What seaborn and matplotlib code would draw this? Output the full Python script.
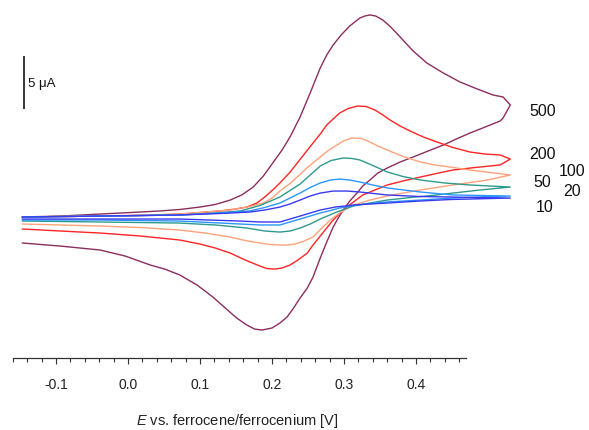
import matplotlib
matplotlib.use("Agg")
import matplotlib.pyplot as plt
import seaborn as sns
import pandas as pd
import numpy as np

# ---------------- data (E in V vs Fc/Fc+, I in uA) ----------------
rates = ["500", "200", "100", "50", "20", "10"]
colors = ["#8C2D5E", "#FF2424", "#FFA27A", "#2E9A8E", "#2A96FF", "#3A3AF0"]

E_500 = [-0.147, -0.094, -0.039, 0.017, 0.044, 0.072, 0.100, 0.121, 0.142, 0.158, 0.174, 0.188,
         0.201, 0.214, 0.225, 0.239, 0.253, 0.267, 0.276, 0.285, 0.296, 0.308, 0.322, 0.329,
         0.336, 0.344, 0.354, 0.365, 0.378, 0.396, 0.415, 0.438, 0.461, 0.485, 0.507, 0.521, 0.531,
         0.521, 0.517, 0.496, 0.475, 0.456, 0.438, 0.417, 0.396, 0.378, 0.360, 0.347, 0.336,
         0.326, 0.318, 0.308, 0.299, 0.292, 0.285, 0.276, 0.267, 0.257, 0.249, 0.239, 0.229,
         0.221, 0.211, 0.200, 0.186, 0.176, 0.165, 0.151, 0.135, 0.118, 0.096, 0.072, 0.051,
         0.031, -0.004, -0.039, -0.094, -0.147]
I_500 = [0.00, 0.09, 0.28, 0.47, 0.57, 0.71, 0.94, 1.18, 1.60, 2.08, 2.83, 3.87,
         5.09, 6.32, 7.55, 9.43, 11.70, 14.06, 15.28, 16.23, 17.17, 18.02, 18.77, 18.96,
         19.06, 18.96, 18.58, 17.92, 16.98, 15.66, 14.53, 13.58, 12.74, 12.08, 11.51, 11.32, 10.57,
         9.34, 9.06, 8.49, 7.92, 7.36, 6.79, 6.23, 5.66, 5.19, 4.62, 4.15, 3.49,
         2.92, 2.26, 1.51, 0.66, -0.09, -0.94, -2.36, -3.87, -5.66, -6.70, -7.64, -8.68,
         -9.43, -10.00, -10.47, -10.66, -10.57, -10.19, -9.53, -8.58, -7.55, -6.42, -5.47, -4.91,
         -4.53, -3.68, -3.11, -2.74, -2.45]

E_200 = [-0.147, -0.039, 0.017, 0.072, 0.100, 0.128, 0.149, 0.165, 0.179, 0.190, 0.201, 0.211,
         0.224, 0.235, 0.246, 0.257, 0.267, 0.276, 0.285, 0.294, 0.306, 0.319, 0.331, 0.343,
         0.353, 0.364, 0.378, 0.392, 0.410, 0.429, 0.451, 0.475, 0.496, 0.517, 0.531,
         0.517, 0.482, 0.451, 0.428, 0.406, 0.382, 0.360, 0.343, 0.326, 0.315, 0.304, 0.294,
         0.285, 0.276, 0.267, 0.257, 0.249, 0.236, 0.225, 0.214, 0.204, 0.193, 0.183, 0.163,
         0.142, 0.121, 0.100, 0.072, 0.017, -0.039, -0.094, -0.147]
I_200 = [0.00, 0.09, 0.14, 0.28, 0.42, 0.57, 0.75, 0.94, 1.32, 1.89, 2.55, 3.21,
         4.15, 5.09, 6.04, 6.98, 7.83, 8.68, 9.25, 9.81, 10.24, 10.47, 10.42, 10.09,
         9.67, 9.15, 8.58, 8.11, 7.55, 7.08, 6.56, 6.13, 5.94, 5.85, 5.47,
         4.91, 4.67, 4.43, 4.10, 3.77, 3.40, 3.02, 2.55, 2.08, 1.51, 0.94, 0.33,
         -0.28, -1.04, -1.79, -2.64, -3.40, -4.06, -4.53, -4.81, -4.91, -4.86, -4.62, -4.06,
         -3.40, -2.92, -2.55, -2.17, -1.79, -1.51, -1.32, -1.13]

E_100 = [-0.147, -0.039, 0.072, 0.142, 0.169, 0.188, 0.200, 0.211, 0.224, 0.235, 0.250, 0.267,
         0.278, 0.288, 0.299, 0.311, 0.324, 0.336, 0.347, 0.360, 0.382, 0.406, 0.426, 0.447,
         0.475, 0.503, 0.531,
         0.499, 0.475, 0.451, 0.428, 0.406, 0.382, 0.360, 0.336, 0.313, 0.296, 0.281, 0.268,
         0.257, 0.243, 0.232, 0.221, 0.211, 0.197, 0.183, 0.163, 0.142, 0.107, 0.072, 0.017,
         -0.039, -0.094, -0.147]
I_100 = [0.00, 0.09, 0.28, 0.66, 0.99, 1.32, 1.79, 2.45, 3.11, 3.77, 4.72, 5.66,
         6.27, 6.70, 7.17, 7.45, 7.41, 7.08, 6.70, 6.32, 5.71, 5.19, 4.91, 4.72,
         4.43, 4.20, 3.96,
         3.49, 3.25, 3.02, 2.78, 2.55, 2.26, 1.98, 1.60, 1.13, 0.47, -0.28, -1.13,
         -1.89, -2.31, -2.55, -2.64, -2.64, -2.59, -2.45, -2.22, -1.89, -1.51, -1.23, -0.99,
         -0.85, -0.75, -0.66]

E_50 = [-0.147, -0.039, 0.072, 0.121, 0.156, 0.183, 0.211, 0.225, 0.239, 0.253, 0.267, 0.282,
        0.299, 0.311, 0.322, 0.340, 0.360, 0.382, 0.406, 0.440, 0.475, 0.531,
        0.489, 0.458, 0.429, 0.392, 0.360, 0.336, 0.313, 0.290, 0.267, 0.253, 0.239, 0.225,
        0.211, 0.190, 0.165, 0.121, 0.072, 0.017, -0.039, -0.094, -0.147]
I_50 = [0.00, 0.09, 0.19, 0.38, 0.57, 1.08, 1.89, 2.50, 3.11, 3.96, 4.81, 5.33,
        5.57, 5.52, 5.38, 4.86, 4.25, 3.82, 3.49, 3.21, 3.02, 2.83,
        2.55, 2.31, 2.08, 1.84, 1.60, 1.32, 1.04, 0.47, -0.19, -0.66, -1.04, -1.32,
        -1.42, -1.32, -1.04, -0.75, -0.57, -0.52, -0.47, -0.42, -0.38]

E_20 = [-0.147, -0.039, 0.072, 0.128, 0.169, 0.190, 0.211, 0.225, 0.239, 0.253, 0.267, 0.281,
        0.294, 0.308, 0.322, 0.340, 0.360, 0.406, 0.451, 0.531,
        0.451, 0.406, 0.360, 0.322, 0.294, 0.281, 0.267, 0.239, 0.211, 0.183, 0.156, 0.114,
        0.072, -0.039, -0.147]
I_20 = [0.00, 0.09, 0.19, 0.38, 0.57, 0.90, 1.32, 1.79, 2.26, 2.78, 3.21, 3.49,
        3.58, 3.49, 3.30, 3.02, 2.74, 2.36, 2.08, 1.98,
        1.79, 1.60, 1.42, 1.18, 0.85, 0.61, 0.38, -0.19, -0.75, -0.75, -0.66, -0.52,
        -0.38, -0.28, -0.28]

E_10 = [-0.147, -0.039, 0.072, 0.128, 0.169, 0.190, 0.211, 0.225, 0.239, 0.253, 0.267, 0.285,
        0.304, 0.322, 0.360, 0.406, 0.447, 0.531,
        0.447, 0.406, 0.360, 0.313, 0.288, 0.267, 0.239, 0.211, 0.183, 0.156, 0.072, -0.039,
        -0.147]
I_10 = [0.00, 0.09, 0.19, 0.33, 0.47, 0.66, 0.94, 1.23, 1.60, 1.98, 2.26, 2.45,
        2.45, 2.36, 2.08, 1.93, 1.89, 1.79,
        1.65, 1.51, 1.32, 1.13, 0.94, 0.66, 0.09, -0.47, -0.47, -0.38, -0.19, -0.19,
        -0.19]

# label positions for scan-rate annotations
label_E = [0.576, 0.576, 0.617, 0.576, 0.617, 0.578]
label_I = [9.91, 5.85, 4.34, 3.30, 2.36, 0.94]

major_ticks = [-0.1, 0.0, 0.1, 0.2, 0.3, 0.4]
tick_labels = ["-0.1", "0.0", "0.1", "0.2", "0.3", "0.4"]

scalebar_E = -0.1444
scalebar_I = [10.19, 15.19]
scalebar_text = "5 \u03bcA"

# ---------------- build dataframe ----------------
E_all = [E_500, E_200, E_100, E_50, E_20, E_10]
I_all = [I_500, I_200, I_100, I_50, I_20, I_10]
frames = []
for r, e, i in zip(rates, E_all, I_all):
    frames.append(pd.DataFrame({"E": e, "I": i, "rate": r}))
df = pd.concat(frames, ignore_index=True)

# ---------------- plot ----------------
sns.set_style("white")
plt.rcParams["font.family"] = ["Liberation Sans", "DejaVu Sans"]
plt.rcParams["mathtext.fontset"] = "custom"
plt.rcParams["mathtext.it"] = "Liberation Sans:italic"
plt.rcParams["mathtext.rm"] = "Liberation Sans"

fig = plt.figure(figsize=(5.89, 4.30), dpi=100)
ax = fig.add_axes([0.0, 0.1674, 1.0, 0.8326])

sns.lineplot(data=df, x="E", y="I", hue="rate", hue_order=rates, palette=colors,
             sort=False, estimator=None, legend=False, linewidth=1.0, ax=ax)

ax.set_xlim(-0.1778, 0.6403)
ax.set_ylim(-13.30, 20.47)

for s in ["top", "left", "right"]:
    ax.spines[s].set_visible(False)
ax.spines["bottom"].set_bounds(-0.16, 0.47)
ax.spines["bottom"].set_color("#333333")
ax.spines["bottom"].set_linewidth(0.9)

ax.set_yticks([])
ax.set_ylabel("")
ax.set_xticks(major_ticks)
ax.set_xticklabels(tick_labels, fontsize=10, color="#222222")
ax.set_xticks(np.round(np.arange(-0.16, 0.47, 0.02), 2), minor=True)
ax.tick_params(axis="x", which="major", direction="out", length=4.2, width=0.8,
               color="#333333", pad=10, bottom=True)
ax.tick_params(axis="x", which="minor", direction="out", length=3.0, width=0.8,
               color="#333333", bottom=True)

ax.set_xlabel(r"$\mathit{E}$ vs. ferrocene/ferrocenium [V]", fontsize=10.5, color="#222222")
ax.xaxis.set_label_coords(0.4025, -0.152)

# scale bar
ax.plot([scalebar_E, scalebar_E], scalebar_I, color="black", lw=1.1, solid_capstyle="butt")
ax.text(scalebar_E + 0.0055, np.mean(scalebar_I) - 0.1, scalebar_text, fontsize=9.5,
        ha="left", va="center", color="#111111")

for r, xe, yi in zip(rates, label_E, label_I):
    ax.text(xe, yi, r, fontsize=11.5, ha="center", va="center", color="#111111")

fig.savefig("out.png", dpi=100)
